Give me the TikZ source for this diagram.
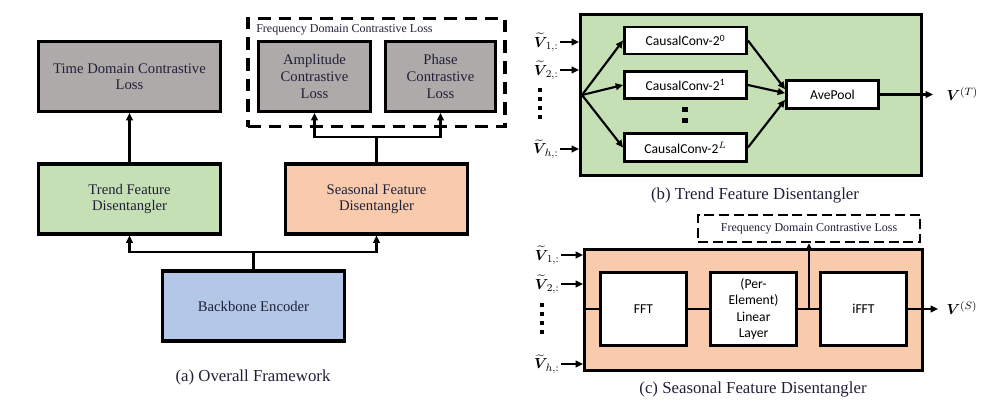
\documentclass[tikz,border=0pt]{standalone}
\usepackage{amsmath}
\usepackage{bm}
\usepackage{fontspec}
\setmainfont{Liberation Serif}
\newfontfamily\sansf{Carlito}
\usetikzlibrary{arrows.meta,calc}
\definecolor{lossgray}{RGB}{174,170,170}
\definecolor{trendgreen}{RGB}{197,224,180}
\definecolor{seasorange}{RGB}{248,203,173}
\definecolor{bbblue}{RGB}{180,199,231}
\definecolor{txtc}{RGB}{32,32,56}
\begin{document}
\begin{tikzpicture}[x=0.75pt,y=-0.75pt,
  bigbox/.style={draw=black,line width=2.3pt,inner sep=0pt,align=center,text=txtc,
    font=\fontsize{11}{12.4}\selectfont,minimum width=182*0.75pt,minimum height=70*0.75pt},
  cont/.style={draw=black,line width=2.3pt,inner sep=0pt},
  sbox/.style={draw=black,line width=2.2pt,fill=white,inner sep=0pt,align=center,
    font=\sansf\fontsize{10.2}{12.2}\selectfont},
  conn/.style={line width=1.6pt,-{Triangle[length=5.5pt,width=5pt]}},
  thinln/.style={line width=1.2pt},
  dotsq/.style={fill=black,inner sep=0pt,minimum size=3.6pt},
  vlab/.style={font=\fontsize{11}{13}\selectfont,inner sep=1pt},
  captext/.style={font=\fontsize{12.6}{14}\selectfont,text=txtc},
  smalltxt/.style={font=\fontsize{9}{10}\selectfont,text=txtc}
]
\useasboundingbox (0,0) rectangle (992,407);

% ---------------- (a) Overall Framework ----------------
\node[bigbox,fill=lossgray] (time) at (129.5,76.5) {Time Domain Contrastive\\Loss};
\node[draw=black,line width=2.3pt,dash pattern=on 9.5pt off 6pt,inner sep=0pt,
  minimum width=257*0.75pt,minimum height=108*0.75pt] (fdbox) at (376.5,72.5) {};
\node[smalltxt,anchor=west,inner sep=0pt] (fdlab) at (256,30) {Frequency Domain Contrastive Loss};
\node[bigbox,fill=lossgray,minimum width=112*0.75pt] (amp) at (314.5,76.5) {Amplitude\\Contrastive\\Loss};
\node[bigbox,fill=lossgray,minimum width=110*0.75pt] (phase) at (440.5,76.5) {Phase\\Contrastive\\Loss};
\node[bigbox,fill=trendgreen] (trend) at (129.5,199) {Trend Feature\\Disentangler};
\node[bigbox,fill=seasorange] (seas) at (376.5,199) {Seasonal Feature\\Disentangler};
\node[bigbox,fill=bbblue] (bb) at (253.5,306) {Backbone Encoder};
\node[captext] (capa) at (253,377) {(a) Overall Framework};

\draw[conn] (trend.north) -- (time.south);
\coordinate (j1) at (253.5,252);
\draw[conn] (bb.north) -- (j1) -| (trend.south);
\draw[conn] (j1) -| (seas.south);
\coordinate (j2) at (376.5,137);
\draw[conn] (seas.north) -- (j2) -| (amp.south);
\draw[conn] (j2) -| (phase.south);

% ---------------- (b) Trend Feature Disentangler ----------------
\node[cont,fill=trendgreen,minimum width=341*0.75pt,minimum height=161*0.75pt] (green) at (751,95) {};
\node[sbox,minimum width=122*0.75pt,minimum height=27*0.75pt] (cc0) at (685.5,40.5) {CausalConv-2\textsuperscript{0}};
\node[sbox,minimum width=122*0.75pt,minimum height=27*0.75pt] (cc1) at (685.5,85) {CausalConv-2\textsuperscript{1}};
\node[sbox,minimum width=122*0.75pt,minimum height=28*0.75pt] (ccl) at (685.5,147.5) {CausalConv-2$^{L}$};
\node[sbox,minimum width=92*0.75pt,minimum height=28*0.75pt] (ave) at (832.5,94.5) {AvePool};
\node[dotsq,minimum size=4pt] (cd1) at (685,109.5) {};
\node[dotsq,minimum size=4pt] (cd2) at (685,120.5) {};

\coordinate (fan) at (582,95);
\draw[conn] (fan) -- (cc0.west);
\draw[conn] (fan) -- (cc1.west);
\draw[conn] (fan) -- (ccl.west);
\draw[conn] (cc0.east) -- ([yshift=4pt]ave.west);
\draw[conn] (cc1.east) -- ([yshift=1pt]ave.west);
\draw[conn] (ccl.east) -- ([yshift=-4pt]ave.west);

\node[vlab,anchor=east] (vb1) at (560,42) {$\widetilde{\bm{V}}_{\,1,:}$};
\node[vlab,anchor=east] (vb2) at (560,70) {$\widetilde{\bm{V}}_{\,2,:}$};
\node[vlab,anchor=east] (vbh) at (560,149) {$\widetilde{\bm{V}}_{\,h,:}$};
\draw[conn] (vb1.east) -- (vb1.east -| green.west);
\draw[conn] (vb2.east) -- (vb2.east -| green.west);
\draw[conn] (vbh.east) -- (vbh.east -| green.west);
\node[dotsq] (bd1) at (540,90) {};
\node[dotsq] (bd2) at (540,99) {};
\node[dotsq] (bd3) at (540,108) {};
\node[dotsq] (bd4) at (540,117) {};

\node[vlab,anchor=west] (vt) at (945,94) {$\bm{V}^{(T)}$};
\draw[conn] (ave.east) -- ++(53,0) coordinate (vtend);
\node[captext] (capb) at (755,195) {(b) Trend Feature Disentangler};

% ---------------- (c) Seasonal Feature Disentangler ----------------
\node[cont,fill=seasorange,minimum width=338*0.75pt,minimum height=121*0.75pt] (orange) at (753.5,310) {};
\node[sbox,minimum width=86*0.75pt,minimum height=73*0.75pt] (fft) at (643.5,309) {FFT};
\node[sbox,minimum width=86*0.75pt,minimum height=73*0.75pt] (lin) at (753.5,309) {(Per-\\Element)\\Linear\\Layer};
\node[sbox,minimum width=86*0.75pt,minimum height=73*0.75pt] (ifft) at (863.5,309) {iFFT};
\node[draw=black,line width=1.8pt,dash pattern=on 7.5pt off 3.5pt,inner sep=0pt,smalltxt,
  minimum width=222*0.75pt,minimum height=27*0.75pt] (fdc) at (809,228.5) {Frequency Domain Contrastive Loss};

\draw[thinln] (orange.west |- fft.west) -- (fft.west);
\draw[thinln] (fft.east) -- (lin.west);
\draw[thinln] (lin.east) -- (ifft.west);
\coordinate (jc) at (fdc.south |- lin.east);
\draw[conn] (jc) -- (fdc.south);
\node[vlab,anchor=west] (vs) at (945,308) {$\bm{V}^{(S)}$};
\draw[thinln,-{Triangle[length=5.5pt,width=5pt]}] (ifft.east) -- ++(30,0) coordinate (vsend);

\node[vlab,anchor=east] (vc1) at (561,255) {$\widetilde{\bm{V}}_{\,1,:}$};
\node[vlab,anchor=east] (vc2) at (561,284) {$\widetilde{\bm{V}}_{\,2,:}$};
\node[vlab,anchor=east] (vch) at (561,364) {$\widetilde{\bm{V}}_{\,h,:}$};
\draw[conn] (vc1.east) -- (vc1.east -| orange.west);
\draw[conn] (vc2.east) -- (vc2.east -| orange.west);
\draw[conn] (vch.east) -- (vch.east -| orange.west);
\node[dotsq] (cdd1) at (542,305) {};
\node[dotsq] (cdd2) at (542,314) {};
\node[dotsq] (cdd3) at (542,323) {};
\node[dotsq] (cdd4) at (542,332) {};
\node[captext] (capc) at (753,389) {(c) Seasonal Feature Disentangler};
\end{tikzpicture}
\end{document}
